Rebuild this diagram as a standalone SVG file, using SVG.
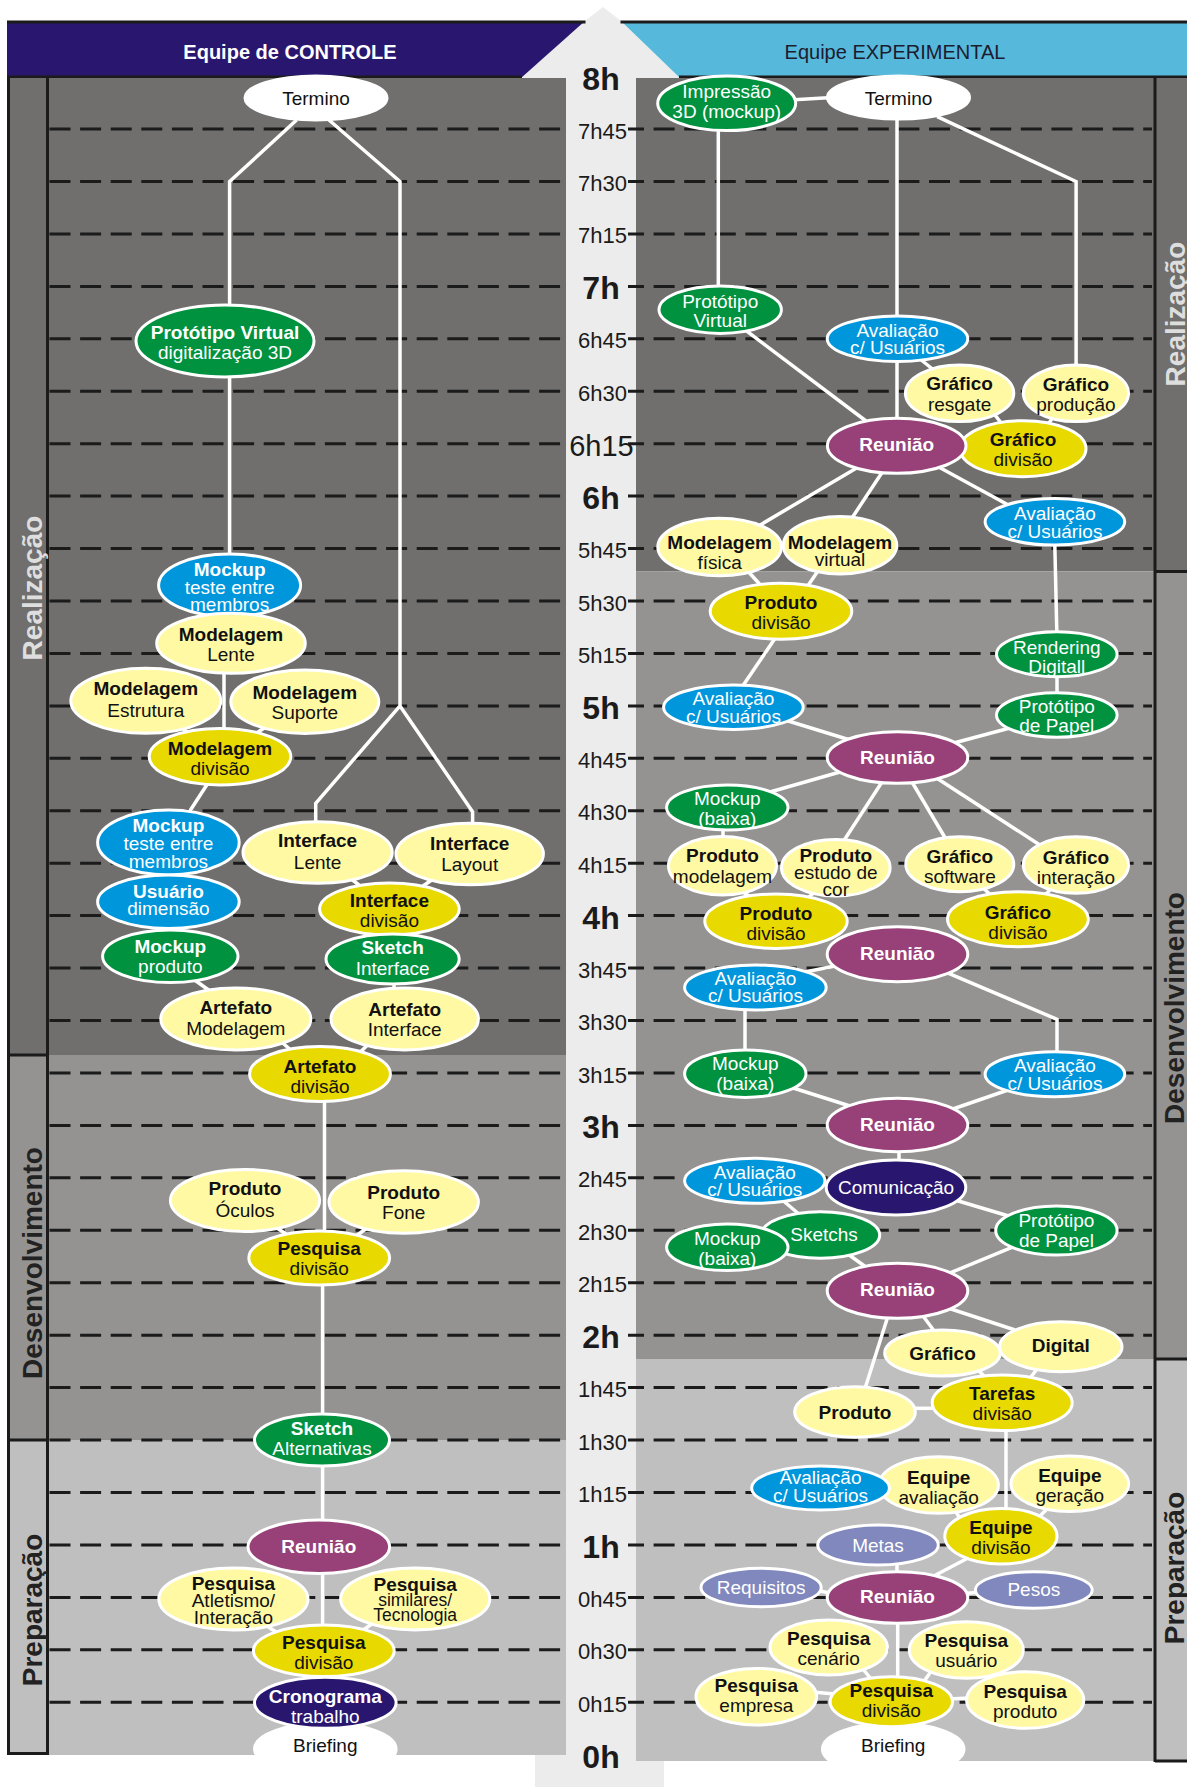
<svg xmlns="http://www.w3.org/2000/svg" width="1187" height="1787" viewBox="0 0 1187 1787">
<style>
text{font-family:"Liberation Sans",Arial,sans-serif}
.dash{stroke:#1b1b1b;stroke-width:3;stroke-dasharray:21 9.6;fill:none}
.dashr{stroke-dashoffset:5}
.edge{stroke:#1b1b1b;stroke-width:3;fill:none}
.con{stroke:#fff;stroke-width:3.5;fill:none}
ellipse{stroke:#fff;stroke-width:3}
.ly{fill:#fff9a3}.dy{fill:#e8d900}.gr{fill:#00923f}.bl{fill:#0096dc}.pu{fill:#984078}.nv{fill:#29166f}.lv{fill:#8088be}.wh{fill:#fff}
.t{font-size:19px;text-anchor:middle}
.sm{font-size:17.5px}
.k{fill:#111}.w{fill:#fff}.b{font-weight:bold}
.tm{font-size:22px;text-anchor:middle;fill:#1b1b1b}
.tbig{font-size:29px}
.th{font-size:32px;font-weight:bold;text-anchor:middle;fill:#1b1b1b}
.ph{font-size:28px;font-weight:bold;text-anchor:middle}
</style>
<rect width="1187" height="1787" fill="#fff"/>
<!-- time arrow -->
<polygon points="603,7 621,21 680,78 664,78 664,1787 535,1787 535,78 521,78 585,21" fill="#ececec"/>
<!-- headers -->
<polygon points="7,21 585,21 521,78 7,78" fill="#29166f"/>
<polygon points="621,21 1187,21 1187,78 680,78" fill="#56b8da"/>
<path class="edge" stroke-width="2.5" d="M7 22H585.5M620.5 22H1187M7 77H522M679 77H1187"/>
<text x="290" y="59" font-size="20" font-weight="bold" fill="#fff" text-anchor="middle">Equipe de CONTROLE</text>
<text x="895" y="59" font-size="20" fill="#1c1c30" text-anchor="middle">Equipe EXPERIMENTAL</text>
<!-- control team panel -->
<rect x="7" y="78" width="559" height="977" fill="#706f6e"/>
<rect x="7" y="1055" width="559" height="385" fill="#949392"/>
<rect x="7" y="1440" width="559" height="315" fill="#c0bfbf"/>
<path class="edge" d="M8.5 78V1755M47.5 78V1755M7 1055H49M7 1440H49M7 1753.5H49"/>
<text class="ph" fill="#dedede" transform="translate(42,588) rotate(-90)">Realização</text>
<text class="ph" fill="#222" transform="translate(42,1263) rotate(-90)">Desenvolvimento</text>
<text class="ph" fill="#222" transform="translate(42,1610) rotate(-90)">Preparação</text>
<!-- experimental team panel -->
<rect x="636" y="78" width="551" height="493.5" fill="#706f6e"/>
<rect x="636" y="571.5" width="551" height="787.5" fill="#949392"/>
<rect x="636" y="1359" width="551" height="402" fill="#c0bfbf"/>
<path class="edge" d="M1155 78V1762M1155 571.5H1187M1155 1359H1187M1155 1761H1187"/>
<text class="ph" fill="#dedede" transform="translate(1185,314) rotate(-90)">Realização</text>
<text class="ph" fill="#222" transform="translate(1184,1008) rotate(-90)">Desenvolvimento</text>
<text class="ph" fill="#222" transform="translate(1184,1568) rotate(-90)">Preparação</text>
<!-- quarter-hour grid -->
<path class="dash" d="M49.5 129H566M49.5 181.5H566M49.5 233.9H566M49.5 286.4H566M49.5 338.8H566M49.5 391.2H566M49.5 443.7H566M49.5 496.1H566M49.5 548.6H566M49.5 601H566M49.5 653.4H566M49.5 705.9H566M49.5 758.3H566M49.5 810.8H566M49.5 863.2H566M49.5 915.6H566M49.5 968.1H566M49.5 1020.5H566M49.5 1073H566M49.5 1125.4H566M49.5 1177.8H566M49.5 1230.3H566M49.5 1282.7H566M49.5 1335.2H566M49.5 1387.6H566M49.5 1440H566M49.5 1492.5H566M49.5 1544.9H566M49.5 1597.4H566M49.5 1649.8H566M49.5 1702.2H566"/>
<path class="dash dashr" d="M628 129H1152M628 181.5H1152M628 233.9H1152M628 286.4H1152M628 338.8H1152M628 391.2H1152M628 443.7H1152M628 496.1H1152M628 548.6H1152M628 601H1152M628 653.4H1152M628 705.9H1152M628 758.3H1152M628 810.8H1152M628 863.2H1152M628 915.6H1152M628 968.1H1152M628 1020.5H1152M628 1073H1152M628 1125.4H1152M628 1177.8H1152M628 1230.3H1152M628 1282.7H1152M628 1335.2H1152M628 1387.6H1152M628 1440H1152M628 1492.5H1152M628 1544.9H1152M628 1597.4H1152M628 1649.8H1152M628 1702.2H1152"/>
<!-- time labels -->
<g id="time-scale">
<text class="th" x="601" y="90">8h</text>
<text class="tm" x="602.5" y="138.5">7h45</text>
<text class="tm" x="602.5" y="191">7h30</text>
<text class="tm" x="602.5" y="243.4">7h15</text>
<text class="th" x="601" y="299.4">7h</text>
<text class="tm" x="602.5" y="348.3">6h45</text>
<text class="tm" x="602.5" y="400.7">6h30</text>
<text class="tm tbig" x="601.5" y="455.5">6h15</text>
<text class="th" x="601" y="509.1">6h</text>
<text class="tm" x="602.5" y="558.1">5h45</text>
<text class="tm" x="602.5" y="610.5">5h30</text>
<text class="tm" x="602.5" y="662.9">5h15</text>
<text class="th" x="601" y="718.9">5h</text>
<text class="tm" x="602.5" y="767.8">4h45</text>
<text class="tm" x="602.5" y="820.3">4h30</text>
<text class="tm" x="602.5" y="872.7">4h15</text>
<text class="th" x="601" y="928.6">4h</text>
<text class="tm" x="602.5" y="977.6">3h45</text>
<text class="tm" x="602.5" y="1030">3h30</text>
<text class="tm" x="602.5" y="1082.5">3h15</text>
<text class="th" x="601" y="1138.4">3h</text>
<text class="tm" x="602.5" y="1187.3">2h45</text>
<text class="tm" x="602.5" y="1239.8">2h30</text>
<text class="tm" x="602.5" y="1292.2">2h15</text>
<text class="th" x="601" y="1348.2">2h</text>
<text class="tm" x="602.5" y="1397.1">1h45</text>
<text class="tm" x="602.5" y="1449.5">1h30</text>
<text class="tm" x="602.5" y="1502">1h15</text>
<text class="th" x="601" y="1557.9">1h</text>
<text class="tm" x="602.5" y="1606.9">0h45</text>
<text class="tm" x="602.5" y="1659.3">0h30</text>
<text class="tm" x="602.5" y="1711.7">0h15</text>
<text class="th" x="601" y="1767.7">0h</text>
</g>
<!-- connectors -->
<g id="connectors">
<path class="con" d="M296.6 120L229.6 181.5V560"/>
<path class="con" d="M329 120L400 181.5V705.9L315.7 803.3V830M400 705.9L472.6 811.7V830"/>
<path class="con" d="M224 660V740"/>
<path class="con" d="M145.8 700.8L220 756.7"/>
<path class="con" d="M304.8 701.7L220 756.7"/>
<path class="con" d="M219.7 765L174.3 835"/>
<path class="con" d="M187.6 975L218.4 997"/>
<path class="con" d="M317.6 852.5L389.4 909"/>
<path class="con" d="M469.7 854L389.4 909"/>
<path class="con" d="M394 975V1000"/>
<path class="con" d="M270 1032L300 1058"/>
<path class="con" d="M378 1035L352 1060"/>
<path class="con" stroke-width="4.5" d="M324.5 1090V1245M322.6 1270V1660"/>
<path class="con" d="M268 1222L295 1240"/>
<path class="con" d="M375 1222L348 1242"/>
<path class="con" d="M255 1618L282 1636"/>
<path class="con" d="M380 1618L355 1636"/>
<path class="con" d="M790 100L832 97.5"/>
<path class="con" d="M718.3 125V292"/>
<path class="con" d="M897 115V425"/>
<path class="con" d="M937.2 116.7L1076.1 181.5V370"/>
<path class="con" d="M915 355L940 375"/>
<path class="con" d="M740 326L870 424"/>
<path class="con" d="M995 415L1005 428"/>
<path class="con" d="M1055 415L1045 428"/>
<path class="con" d="M860 466L755 528"/>
<path class="con" d="M885 468L850 521"/>
<path class="con" d="M935 465L1012 507"/>
<path class="con" d="M745 568L765 590"/>
<path class="con" d="M822 565L805 590"/>
<path class="con" d="M1054.7 540L1057 640"/>
<path class="con" d="M1057 670V700"/>
<path class="con" d="M778 634L740 690"/>
<path class="con" d="M785 720L850 740"/>
<path class="con" d="M1010 728L950 744"/>
<path class="con" d="M840 772L770 792"/>
<path class="con" d="M882 782L843 842"/>
<path class="con" d="M912 782L947 841"/>
<path class="con" d="M935 777L1043 847"/>
<path class="con" d="M723 825V842"/>
<path class="con" d="M740 890L752 898"/>
<path class="con" d="M815 892L805 900"/>
<path class="con" d="M983 888L992 896"/>
<path class="con" d="M1052 888L1044 896"/>
<path class="con" d="M835 966L805 972"/>
<path class="con" d="M948.7 973.3L1057 1019.3V1056"/>
<path class="con" d="M745 1005V1055"/>
<path class="con" d="M790 1087L850 1106"/>
<path class="con" d="M1008 1090L950 1110"/>
<path class="con" d="M899 1145V1165"/>
<path class="con" d="M780 1198L800 1215"/>
<path class="con" d="M955 1200L1012 1217"/>
<path class="con" d="M845 1252L870 1270"/>
<path class="con" d="M1020 1244L945 1275"/>
<path class="con" stroke-width="4.5" d="M920 1312L938 1336"/>
<path class="con" d="M948 1308L1015 1330"/>
<path class="con" d="M888 1316L864.5 1390"/>
<path class="con" d="M910 1408.3H937"/>
<path class="con" d="M978 1370L988 1380"/>
<path class="con" d="M1038 1368L1030 1378"/>
<path class="con" stroke-width="4.5" d="M1006 1428V1512"/>
<path class="con" d="M953 1508L960 1518"/>
<path class="con" d="M1049 1507L1040 1516"/>
<path class="con" stroke-width="5" d="M970 1557L930 1578"/>
<path class="con" d="M897 1560V1578"/>
<path class="con" d="M815 1590L835 1594"/>
<path class="con" d="M980 1592L960 1594"/>
<path class="con" stroke-width="4.5" d="M897.7 1620V1680"/>
<path class="con" d="M862 1668L872 1680"/>
<path class="con" d="M932 1670L925 1680"/>
<path class="con" d="M812 1692L835 1694"/>
<path class="con" d="M970 1698L948 1699"/>
</g>
<!-- control team nodes -->
<g id="n-termino-c"><ellipse class="wh" cx="316" cy="98" rx="71" ry="22"/><text class="t k" x="316" y="105">Termino</text></g>
<g id="n-prototipo-virtual-c"><ellipse class="gr" cx="225" cy="341" rx="89" ry="36"/><text class="t w"><tspan class="b" x="225" y="338.7">Protótipo Virtual</tspan><tspan x="225" y="358.7">digitalização 3D</tspan></text></g>
<g id="n-mockup-membros-1"><ellipse class="bl" cx="229.6" cy="585.3" rx="71" ry="31.3"/><text class="t w"><tspan class="b" x="229.6" y="576">Mockup</tspan><tspan x="229.6" y="593.7">teste entre</tspan><tspan x="229.6" y="611.3">membros</tspan></text></g>
<g id="n-modelagem-lente"><ellipse class="ly" cx="231" cy="643.3" rx="74.3" ry="30"/><text class="t k"><tspan class="b" x="231" y="641.3">Modelagem</tspan><tspan x="231" y="661.3">Lente</tspan></text></g>
<g id="n-modelagem-estrutura"><ellipse class="ly" cx="145.8" cy="700.8" rx="75" ry="32.5"/><text class="t k"><tspan class="b" x="145.8" y="695.3">Modelagem</tspan><tspan x="145.8" y="717">Estrutura</tspan></text></g>
<g id="n-modelagem-suporte"><ellipse class="ly" cx="304.8" cy="701.7" rx="74" ry="31.7"/><text class="t k"><tspan class="b" x="304.8" y="698.7">Modelagem</tspan><tspan x="304.8" y="719.3">Suporte</tspan></text></g>
<g id="n-modelagem-divisao"><ellipse class="dy" cx="220" cy="756.7" rx="70.8" ry="28.3"/><text class="t k"><tspan class="b" x="220" y="755.3">Modelagem</tspan><tspan x="220" y="775.3">divisão</tspan></text></g>
<g id="n-mockup-membros-2"><ellipse class="bl" cx="168.4" cy="842.5" rx="70.8" ry="32.5"/><text class="t w"><tspan class="b" x="168.4" y="832">Mockup</tspan><tspan x="168.4" y="849.7">teste entre</tspan><tspan x="168.4" y="867.7">membros</tspan></text></g>
<g id="n-usuario-dimensao"><ellipse class="bl" cx="168.4" cy="901.7" rx="70.8" ry="26.7"/><text class="t w"><tspan class="b" x="168.4" y="898">Usuário</tspan><tspan x="168.4" y="915.3">dimensão</tspan></text></g>
<g id="n-mockup-produto"><ellipse class="gr" cx="170.3" cy="956.3" rx="67.7" ry="26.3"/><text class="t w"><tspan class="b" x="170.3" y="952.7">Mockup</tspan><tspan x="170.3" y="972.7">produto</tspan></text></g>
<g id="n-interface-lente"><ellipse class="ly" cx="317.6" cy="852.5" rx="74.6" ry="30.8"/><text class="t k"><tspan class="b" x="317.6" y="847">Interface</tspan><tspan x="317.6" y="868.7">Lente</tspan></text></g>
<g id="n-interface-layout"><ellipse class="ly" cx="469.7" cy="854" rx="73.7" ry="30.8"/><text class="t k"><tspan class="b" x="469.7" y="850.3">Interface</tspan><tspan x="469.7" y="871">Layout</tspan></text></g>
<g id="n-interface-divisao"><ellipse class="dy" cx="389.4" cy="909" rx="69.8" ry="26"/><text class="t k"><tspan class="b" x="389.4" y="907">Interface</tspan><tspan x="389.4" y="927">divisão</tspan></text></g>
<g id="n-sketch-interface"><ellipse class="gr" cx="392.6" cy="959" rx="66.6" ry="25"/><text class="t w"><tspan class="b" x="392.6" y="953.7">Sketch</tspan><tspan x="392.6" y="974.7">Interface</tspan></text></g>
<g id="n-artefato-modelagem"><ellipse class="ly" cx="235.8" cy="1019" rx="75" ry="31"/><text class="t k"><tspan class="b" x="235.8" y="1013.7">Artefato</tspan><tspan x="235.8" y="1035.3">Modelagem</tspan></text></g>
<g id="n-artefato-interface"><ellipse class="ly" cx="404.7" cy="1019" rx="73.7" ry="31"/><text class="t k"><tspan class="b" x="404.7" y="1016.3">Artefato</tspan><tspan x="404.7" y="1036.3">Interface</tspan></text></g>
<g id="n-artefato-divisao"><ellipse class="dy" cx="320" cy="1074" rx="70.4" ry="27.5"/><text class="t k"><tspan class="b" x="320" y="1072.7">Artefato</tspan><tspan x="320" y="1092.7">divisão</tspan></text></g>
<g id="n-produto-oculos"><ellipse class="ly" cx="245" cy="1200.5" rx="74.6" ry="31"/><text class="t k"><tspan class="b" x="245" y="1195.3">Produto</tspan><tspan x="245" y="1217">Óculos</tspan></text></g>
<g id="n-produto-fone"><ellipse class="ly" cx="403.7" cy="1202" rx="74.7" ry="31.3"/><text class="t k"><tspan class="b" x="403.7" y="1199.3">Produto</tspan><tspan x="403.7" y="1219.3">Fone</tspan></text></g>
<g id="n-pesquisa-divisao-c1"><ellipse class="dy" cx="319.2" cy="1258" rx="70.4" ry="27"/><text class="t k"><tspan class="b" x="319.2" y="1255.3">Pesquisa</tspan><tspan x="319.2" y="1275.3">divisão</tspan></text></g>
<g id="n-sketch-alternativas"><ellipse class="gr" cx="322" cy="1440" rx="67.5" ry="26"/><text class="t w"><tspan class="b" x="322" y="1435.3">Sketch</tspan><tspan x="322" y="1455.3">Alternativas</tspan></text></g>
<g id="n-reuniao-c"><ellipse class="pu" cx="318.8" cy="1546.7" rx="70.8" ry="26.7"/><text class="t w b" x="318.8" y="1552.7">Reunião</text></g>
<g id="n-pesquisa-atletismo"><ellipse class="ly" cx="233.4" cy="1599" rx="74.6" ry="31"/><text class="t k"><tspan class="b" x="233.4" y="1590.3">Pesquisa</tspan><tspan x="233.4" y="1607">Atletismo/</tspan><tspan x="233.4" y="1624.3">Interação</tspan></text></g>
<g id="n-pesquisa-similares"><ellipse class="ly" cx="415.2" cy="1599" rx="74.6" ry="31"/><text class="t k"><tspan class="b" x="415.2" y="1591.3">Pesquisa</tspan><tspan class="sm" x="415.2" y="1605.8">similares/</tspan><tspan class="sm" x="415.2" y="1620.5">Tecnologia</tspan></text></g>
<g id="n-briefing-c"><ellipse class="wh" cx="325.3" cy="1749" rx="70.8" ry="26"/><text class="t k" x="325.3" y="1752">Briefing</text></g>
<g id="n-pesquisa-divisao-c2"><ellipse class="dy" cx="323.8" cy="1650.8" rx="70.4" ry="25.8"/><text class="t k"><tspan class="b" x="323.8" y="1649.3">Pesquisa</tspan><tspan x="323.8" y="1669.3">divisão</tspan></text></g>
<g id="n-cronograma"><ellipse class="nv" cx="325.3" cy="1702.8" rx="70.8" ry="25.5"/><text class="t w"><tspan class="b" x="325.3" y="1703">Cronograma</tspan><tspan x="325.3" y="1723">trabalho</tspan></text></g>
<!-- experimental team nodes -->
<g id="n-termino-e"><ellipse class="wh" cx="898.5" cy="97.5" rx="71" ry="21.5"/><text class="t k" x="898.5" y="104.5">Termino</text></g>
<g id="n-impressao"><ellipse class="gr" cx="726.7" cy="103.3" rx="69" ry="27.3"/><text class="t w"><tspan x="726.7" y="97.7">Impressão</tspan><tspan x="726.7" y="118">3D (mockup)</tspan></text></g>
<g id="n-prototipo-virtual-e"><ellipse class="gr" cx="720.2" cy="309.7" rx="61.2" ry="23.7"/><text class="t w"><tspan x="720.2" y="307.7">Protótipo</tspan><tspan x="720.2" y="327">Virtual</tspan></text></g>
<g id="n-avaliacao-e1"><ellipse class="bl" cx="897.5" cy="338.8" rx="70.3" ry="22.8"/><text class="t w"><tspan x="897.5" y="337">Avaliação</tspan><tspan x="897.5" y="353.7">c/ Usuários</tspan></text></g>
<g id="n-grafico-resgate"><ellipse class="ly" cx="959.6" cy="393.3" rx="54.2" ry="28.3"/><text class="t k"><tspan class="b" x="959.6" y="390.3">Gráfico</tspan><tspan x="959.6" y="411">resgate</tspan></text></g>
<g id="n-grafico-producao"><ellipse class="ly" cx="1075.9" cy="393.3" rx="52.6" ry="28.3"/><text class="t k"><tspan class="b" x="1075.9" y="391">Gráfico</tspan><tspan x="1075.9" y="411.3">produção</tspan></text></g>
<g id="n-grafico-divisao-e1"><ellipse class="dy" cx="1023" cy="448.7" rx="63" ry="28"/><text class="t k"><tspan class="b" x="1023" y="445.6">Gráfico</tspan><tspan x="1023" y="466">divisão</tspan></text></g>
<g id="n-reuniao-e1"><ellipse class="pu" cx="896.7" cy="445.8" rx="69.3" ry="27.5"/><text class="t w b" x="896.7" y="451">Reunião</text></g>
<g id="n-modelagem-fisica"><ellipse class="ly" cx="719.6" cy="547" rx="61.8" ry="28.8"/><text class="t k"><tspan class="b" x="719.6" y="549">Modelagem</tspan><tspan x="719.6" y="569">física</tspan></text></g>
<g id="n-modelagem-virtual"><ellipse class="ly" cx="840" cy="545.3" rx="56.8" ry="28.7"/><text class="t k"><tspan class="b" x="840" y="549">Modelagem</tspan><tspan x="840" y="566">virtual</tspan></text></g>
<g id="n-avaliacao-e2"><ellipse class="bl" cx="1054.9" cy="521.7" rx="69.8" ry="23.3"/><text class="t w"><tspan x="1054.9" y="519.7">Avaliação</tspan><tspan x="1054.9" y="538">c/ Usuários</tspan></text></g>
<g id="n-produto-divisao-e1"><ellipse class="dy" cx="781" cy="611.3" rx="70.8" ry="28"/><text class="t k"><tspan class="b" x="781" y="608.7">Produto</tspan><tspan x="781" y="628.7">divisão</tspan></text></g>
<g id="n-rendering"><ellipse class="gr" cx="1056.8" cy="654.2" rx="60.3" ry="22.5"/><text class="t w"><tspan x="1056.8" y="653.7">Rendering</tspan><tspan x="1056.8" y="673">Digitall</tspan></text></g>
<g id="n-prototipo-papel-e1"><ellipse class="gr" cx="1056.8" cy="715" rx="60.3" ry="22.3"/><text class="t w"><tspan x="1056.8" y="713">Protótipo</tspan><tspan x="1056.8" y="732">de Papel</tspan></text></g>
<g id="n-avaliacao-e3"><ellipse class="bl" cx="733.4" cy="707.2" rx="69.8" ry="22.2"/><text class="t w"><tspan x="733.4" y="705.3">Avaliação</tspan><tspan x="733.4" y="722.7">c/ Usuários</tspan></text></g>
<g id="n-reuniao-e2"><ellipse class="pu" cx="897.5" cy="757.5" rx="70.3" ry="25.8"/><text class="t w b" x="897.5" y="763.7">Reunião</text></g>
<g id="n-mockup-baixa-e1"><ellipse class="gr" cx="727.3" cy="807.5" rx="60.7" ry="22.5"/><text class="t w"><tspan x="727.3" y="805.3">Mockup</tspan><tspan x="727.3" y="825.3">(baixa)</tspan></text></g>
<g id="n-produto-modelagem"><ellipse class="ly" cx="722.5" cy="865.8" rx="54" ry="29.2"/><text class="t k"><tspan class="b" x="722.5" y="862">Produto</tspan><tspan x="722.5" y="882.7">modelagem</tspan></text></g>
<g id="n-produto-estudo"><ellipse class="ly" cx="835.8" cy="867.7" rx="54.3" ry="28.3"/><text class="t k"><tspan class="b" x="835.8" y="862">Produto</tspan><tspan x="835.8" y="879.3">estudo de</tspan><tspan x="835.8" y="896">cor</tspan></text></g>
<g id="n-grafico-software"><ellipse class="ly" cx="959.8" cy="864.2" rx="54" ry="27.5"/><text class="t k"><tspan class="b" x="959.8" y="863">Gráfico</tspan><tspan x="959.8" y="883">software</tspan></text></g>
<g id="n-grafico-interacao"><ellipse class="ly" cx="1075.9" cy="865" rx="52.6" ry="28.3"/><text class="t k"><tspan class="b" x="1075.9" y="863.7">Gráfico</tspan><tspan x="1075.9" y="883.7">interação</tspan></text></g>
<g id="n-produto-divisao-e2"><ellipse class="dy" cx="776" cy="921.2" rx="71.2" ry="27.2"/><text class="t k"><tspan class="b" x="776" y="920.3">Produto</tspan><tspan x="776" y="940.3">divisão</tspan></text></g>
<g id="n-grafico-divisao-e2"><ellipse class="dy" cx="1017.9" cy="919.2" rx="70.4" ry="27.5"/><text class="t k"><tspan class="b" x="1017.9" y="918.7">Gráfico</tspan><tspan x="1017.9" y="938.7">divisão</tspan></text></g>
<g id="n-reuniao-e3"><ellipse class="pu" cx="897.5" cy="954.2" rx="70.3" ry="27.5"/><text class="t w b" x="897.5" y="960.3">Reunião</text></g>
<g id="n-avaliacao-e4"><ellipse class="bl" cx="755.4" cy="987.5" rx="70.8" ry="22.5"/><text class="t w"><tspan x="755.4" y="985.3">Avaliação</tspan><tspan x="755.4" y="1002">c/ Usuários</tspan></text></g>
<g id="n-mockup-baixa-e2"><ellipse class="gr" cx="745.3" cy="1073.7" rx="60.7" ry="23.7"/><text class="t w"><tspan x="745.3" y="1070.3">Mockup</tspan><tspan x="745.3" y="1090.3">(baixa)</tspan></text></g>
<g id="n-avaliacao-e5"><ellipse class="bl" cx="1054.9" cy="1074.2" rx="69.8" ry="22.5"/><text class="t w"><tspan x="1054.9" y="1072">Avaliação</tspan><tspan x="1054.9" y="1089.7">c/ Usuários</tspan></text></g>
<g id="n-reuniao-e4"><ellipse class="pu" cx="897.5" cy="1125" rx="70.3" ry="26.7"/><text class="t w b" x="897.5" y="1131">Reunião</text></g>
<g id="n-avaliacao-e6"><ellipse class="bl" cx="754.8" cy="1180.8" rx="70.2" ry="22.5"/><text class="t w"><tspan x="754.8" y="1179.3">Avaliação</tspan><tspan x="754.8" y="1196.3">c/ Usuários</tspan></text></g>
<g id="n-comunicacao"><ellipse class="nv" cx="896" cy="1187.5" rx="69.8" ry="27.5"/><text class="t w" x="896" y="1194.3">Comunicação</text></g>
<g id="n-sketchs"><ellipse class="gr" cx="820.4" cy="1235" rx="59.3" ry="23.3"/><text class="t w" x="824" y="1241.3">Sketchs</text></g>
<g id="n-mockup-baixa-e3"><ellipse class="gr" cx="727.3" cy="1247.3" rx="60.7" ry="23.3"/><text class="t w"><tspan x="727.3" y="1245.3">Mockup</tspan><tspan x="727.3" y="1265.3">(baixa)</tspan></text></g>
<g id="n-prototipo-papel-e2"><ellipse class="gr" cx="1056.4" cy="1230.5" rx="60.7" ry="24.5"/><text class="t w"><tspan x="1056.4" y="1227">Protótipo</tspan><tspan x="1056.4" y="1247">de Papel</tspan></text></g>
<g id="n-reuniao-e5"><ellipse class="pu" cx="897.5" cy="1290.8" rx="70.3" ry="27.5"/><text class="t w b" x="897.5" y="1296.3">Reunião</text></g>
<g id="n-grafico-e"><ellipse class="ly" cx="942.5" cy="1353" rx="57.8" ry="23"/><text class="t k b" x="942.5" y="1359.7">Gráfico</text></g>
<g id="n-digital"><ellipse class="ly" cx="1060.8" cy="1346.7" rx="61.2" ry="25"/><text class="t k b" x="1060.8" y="1351.7">Digital</text></g>
<g id="n-produto-e"><ellipse class="ly" cx="855" cy="1412" rx="60.3" ry="25.3"/><text class="t k b" x="855" y="1418.7">Produto</text></g>
<g id="n-tarefas"><ellipse class="dy" cx="1002.2" cy="1402.8" rx="70" ry="27.8"/><text class="t k"><tspan class="b" x="1002.2" y="1400.3">Tarefas</tspan><tspan x="1002.2" y="1420.3">divisão</tspan></text></g>
<g id="n-equipe-avaliacao"><ellipse class="ly" cx="938.7" cy="1485" rx="59.7" ry="28.3"/><text class="t k"><tspan class="b" x="938.7" y="1483.7">Equipe</tspan><tspan x="938.7" y="1503.7">avaliação</tspan></text></g>
<g id="n-avaliacao-e7"><ellipse class="bl" cx="820.5" cy="1488" rx="68.9" ry="22"/><text class="t w"><tspan x="820.5" y="1484.3">Avaliação</tspan><tspan x="820.5" y="1502">c/ Usuários</tspan></text></g>
<g id="n-equipe-geracao"><ellipse class="ly" cx="1069.8" cy="1483.8" rx="58.8" ry="27.8"/><text class="t k"><tspan class="b" x="1069.8" y="1482">Equipe</tspan><tspan x="1069.8" y="1502">geração</tspan></text></g>
<g id="n-equipe-divisao"><ellipse class="dy" cx="1000.9" cy="1536.2" rx="56.1" ry="27.8"/><text class="t k"><tspan class="b" x="1000.9" y="1534.3">Equipe</tspan><tspan x="1000.9" y="1554.3">divisão</tspan></text></g>
<g id="n-metas"><ellipse class="lv" cx="878" cy="1545" rx="60.3" ry="20"/><text class="t w" x="878" y="1552">Metas</text></g>
<g id="n-requisitos"><ellipse class="lv" cx="761.1" cy="1587.5" rx="60.1" ry="19.2"/><text class="t w" x="761.1" y="1593.7">Requisitos</text></g>
<g id="n-pesos"><ellipse class="lv" cx="1033.8" cy="1590" rx="58.4" ry="18.3"/><text class="t w" x="1033.8" y="1596.3">Pesos</text></g>
<g id="n-reuniao-e6"><ellipse class="pu" cx="897.5" cy="1597.5" rx="70.3" ry="25.8"/><text class="t w b" x="897.5" y="1603">Reunião</text></g>
<g id="n-pesquisa-cenario"><ellipse class="ly" cx="828.7" cy="1647.5" rx="58.7" ry="27.5"/><text class="t k"><tspan class="b" x="828.7" y="1645.3">Pesquisa</tspan><tspan x="828.7" y="1665.3">cenário</tspan></text></g>
<g id="n-pesquisa-usuario"><ellipse class="ly" cx="966.3" cy="1650" rx="57" ry="28.3"/><text class="t k"><tspan class="b" x="966.3" y="1647">Pesquisa</tspan><tspan x="966.3" y="1667">usuário</tspan></text></g>
<g id="n-pesquisa-empresa"><ellipse class="ly" cx="756.3" cy="1696.7" rx="60.3" ry="28.3"/><text class="t k"><tspan class="b" x="756.3" y="1692">Pesquisa</tspan><tspan x="756.3" y="1712">empresa</tspan></text></g>
<g id="n-briefing-e"><ellipse class="wh" cx="893.2" cy="1749" rx="70.8" ry="26"/><text class="t k" x="893.2" y="1752">Briefing</text></g>
<g id="n-pesquisa-divisao-e"><ellipse class="dy" cx="891.3" cy="1701.7" rx="61.2" ry="25"/><text class="t k"><tspan class="b" x="891.3" y="1697">Pesquisa</tspan><tspan x="891.3" y="1717">divisão</tspan></text></g>
<g id="n-pesquisa-produto"><ellipse class="ly" cx="1025.2" cy="1700" rx="58.6" ry="28.3"/><text class="t k"><tspan class="b" x="1025.2" y="1697.7">Pesquisa</tspan><tspan x="1025.2" y="1717.7">produto</tspan></text></g>
</svg>
